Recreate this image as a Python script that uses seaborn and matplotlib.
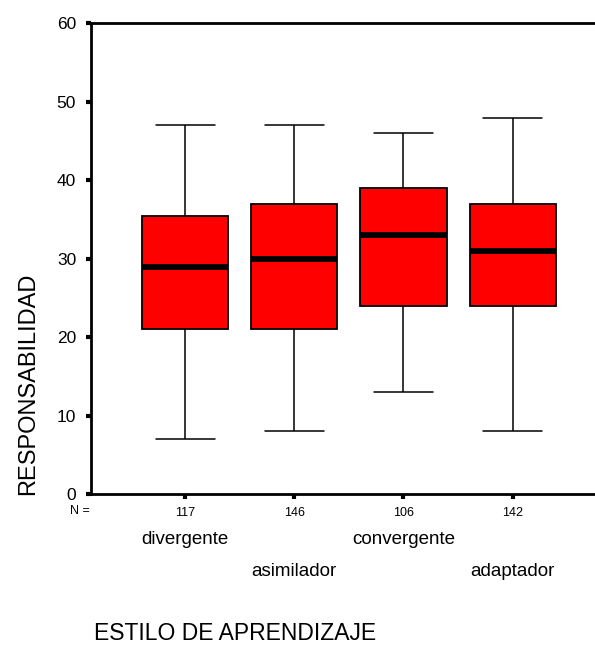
import numpy as np
import pandas as pd
import matplotlib
matplotlib.use("Agg")
import matplotlib.pyplot as plt
import matplotlib.transforms as mtransforms
import seaborn as sns

# ---- data ----
categories = ["divergente", "asimilador", "convergente", "adaptador"]
counts = [117, 146, 106, 142]
mins = [7, 8, 13, 8]
q1s = [21, 21, 24, 24]
medians = [29, 30, 33, 31]
q3s = [35.5, 37, 39, 37]
maxs = [47, 47, 46, 48]

# five-number summaries as long-form data (quartiles reproduce exactly)
rows = []
for c, a, b, m, d, e in zip(categories, mins, q1s, medians, q3s, maxs):
    for v in (a, b, m, d, e):
        rows.append({"estilo": c, "resp": v})
df = pd.DataFrame(rows)

sns.set_theme(style="white")
plt.rcParams["font.family"] = ["Liberation Sans", "DejaVu Sans"]
plt.rcParams["text.color"] = "black"
plt.rcParams["axes.labelcolor"] = "black"
plt.rcParams["xtick.color"] = "black"
plt.rcParams["ytick.color"] = "black"

W, H = 595, 646
fig = plt.figure(figsize=(W / 100, H / 100), dpi=100)
left_px, right_px = 90.7, 595
top_px, bot_px = 23.3, 494.3
ax = fig.add_axes([left_px / W, 1 - bot_px / H,
                   (right_px - left_px) / W, (bot_px - top_px) / H])

sns.boxplot(data=df, x="estilo", y="resp", order=categories, ax=ax,
            color="#ff0000", saturation=1, width=0.79, whis=(0, 100),
            linecolor="black", linewidth=1.1, capwidths=0.54,
            medianprops=dict(color="black", linewidth=4.2),
            boxprops=dict(edgecolor="black", linewidth=1.3))

spacing = 109.2
ax.set_xlim(-(185 - left_px) / spacing, 3 + (right_px - 512.7) / spacing)
ax.set_ylim(0, 60)
ax.set_yticks([0, 10, 20, 30, 40, 50, 60])
ax.set_yticklabels([str(t) for t in [0, 10, 20, 30, 40, 50, 60]], fontsize=12.5,
                   color="black")
ax.set_xticks(range(len(categories)))
ax.set_xticklabels([str(n) for n in counts], fontsize=9, color="black")
ax.tick_params(axis="y", direction="out", length=3.5, width=3, color="black",
               pad=7, left=True)
ax.tick_params(axis="x", direction="out", length=3.5, width=3, color="black",
               pad=6, bottom=True)
for s in ["left", "bottom", "top"]:
    ax.spines[s].set_visible(True)
    ax.spines[s].set_color("black")
    ax.spines[s].set_linewidth(2)
ax.spines["right"].set_visible(False)
ax.set_xlabel("")
ax.set_ylabel("")
ax.grid(False)

# N = label and staggered category names
trans = mtransforms.blended_transform_factory(ax.transData, fig.transFigure)
ax.text(-(185 - 80) / spacing, 1 - 511 / H, "N =", transform=trans,
        ha="center", va="center", fontsize=9, color="black")
for i, c in enumerate(categories):
    ypx = 540 if i % 2 == 0 else 572
    ax.text(i, 1 - ypx / H, c, transform=trans, ha="center", va="center",
            fontsize=13.5, color="black")

fig.text(235 / W, 1 - 633 / H, "ESTILO DE APRENDIZAJE", ha="center",
         va="center", fontsize=16.5, color="black")
fig.text(28 / W, 1 - 384 / H, "RESPONSABILIDAD", ha="center", va="center",
         rotation=90, fontsize=17, color="black")

fig.savefig("out.png", dpi=100)
